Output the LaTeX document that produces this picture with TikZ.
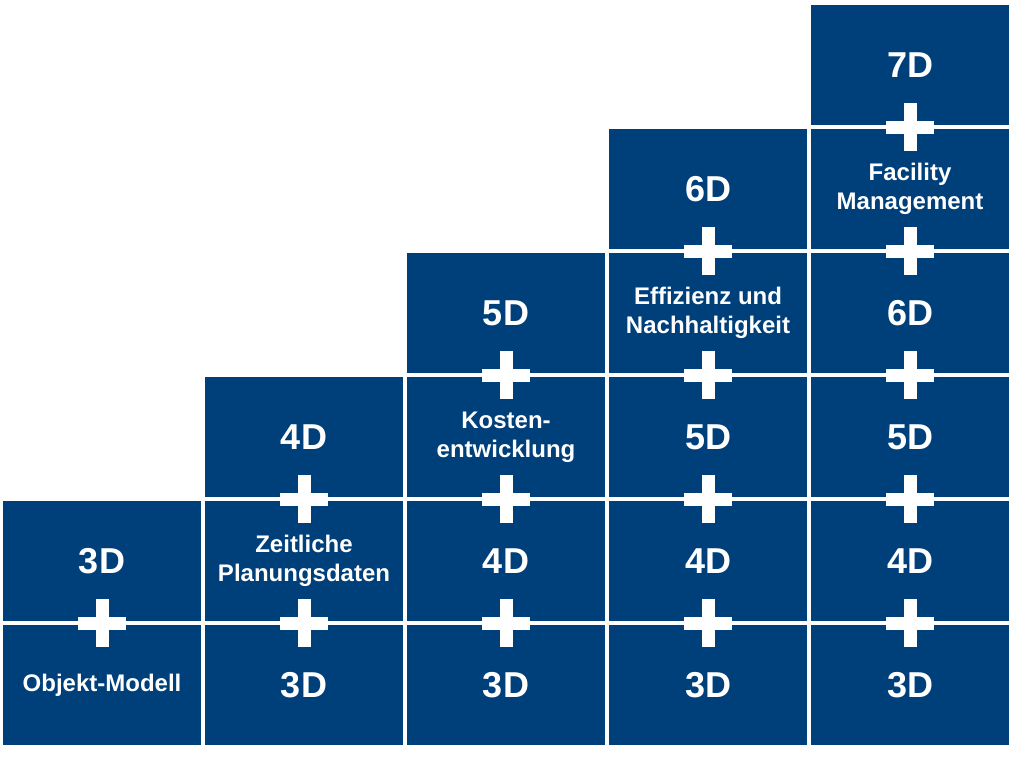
\documentclass[tikz,border=0pt]{standalone}
\usepackage{fontspec}
\setmainfont{Liberation Sans}
\usetikzlibrary{positioning}
\definecolor{cellfill}{HTML}{00407a}

\begin{document}
\begin{tikzpicture}[
  x=0.75pt, y=-0.75pt,
  node distance=3pt,
  cell/.style={rectangle, fill=cellfill, text=white, minimum width=148.5pt,
               minimum height=90pt, inner sep=0pt, outer sep=0pt,
               align=center, font=\fontsize{27}{32}\selectfont\bfseries},
  small/.style={font=\fontsize{18}{21.75}\selectfont\bfseries},
  pics/plussign/.style={code={
    \fill[white] (-24,-6.5) rectangle (24,6.5);
    \fill[white] (-6.5,-24) rectangle (6.5,24);}}
]
\useasboundingbox (0,0) rectangle (1013,772);

% Bottom row (left to right).
\node[cell, small]      (c11) at (102,685) {Objekt-Modell};
\node[cell, right=of c11] (c21) {3D};
\node[cell, right=of c21] (c31) {3D};
\node[cell, right=of c31] (c41) {3D};
\node[cell, right=of c41] (c51) {3D};

% Stacks, bottom to top.
\node[cell, above=of c11] (c12) {3D};

\node[cell, small, above=of c21] (c22) {Zeitliche\\Planungsdaten};
\node[cell, above=of c22]        (c23) {4D};

\node[cell, above=of c31]        (c32) {4D};
\node[cell, small, above=of c32] (c33) {Kosten-\\entwicklung};
\node[cell, above=of c33]        (c34) {5D};

\node[cell, above=of c41]        (c42) {4D};
\node[cell, above=of c42]        (c43) {5D};
\node[cell, small, above=of c43] (c44) {Effizienz und\\Nachhaltigkeit};
\node[cell, above=of c44]        (c45) {6D};

\node[cell, above=of c51]        (c52) {4D};
\node[cell, above=of c52]        (c53) {5D};
\node[cell, above=of c53]        (c54) {6D};
\node[cell, small, above=of c54] (c55) {Facility\\Management};
\node[cell, above=of c55]        (c56) {7D};

% Plus signs on the gaps between stacked cells.
\foreach \n in {c11,c21,c22,c31,c32,c33,c41,c42,c43,c44,c51,c52,c53,c54,c55}
  \pic at ([yshift=1.5pt]\n.north) {plussign};

\end{tikzpicture}
\end{document}
